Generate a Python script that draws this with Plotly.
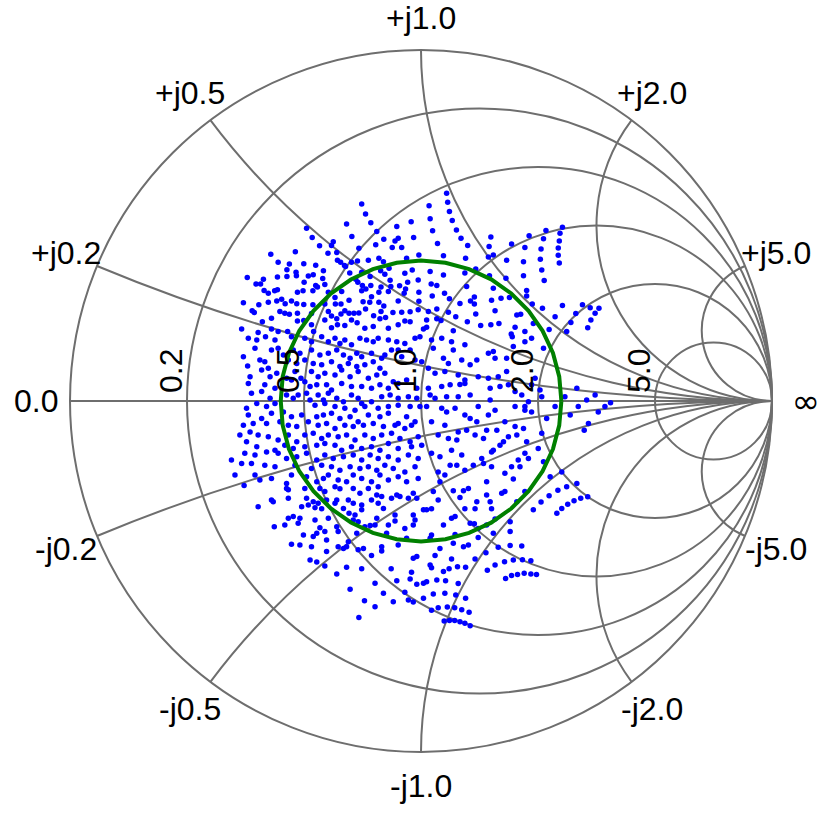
import numpy as np
import plotly.graph_objects as go

# Reflection coefficient of each sample, in thousandths: (re, im)
gamma_upper_left = [(-169,561),(-158,533),(-143,508),(-212,504),(-326,492),(-197,469),(-310,466),(-250,454),(-255,443),(-289,442),(-177,435),(-126,483),(-106,461),(-69,497),(-65,464),(-74,456),(-28,511),(-21,466),(-55,437),(-82,437),(-129,445),(-428,418),(-358,425),(-265,421),(-240,423),(-238,401),(-229,395),(-218,386),(-198,395),(-181,399),(-150,401),(-120,407),(-107,397),(-41,407),(-6,416),(-91,378),(-115,371),(-407,395),(-375,390),(-334,391),(-300,387),(-382,374),(-356,367),(-355,357),(-382,355),(-321,356),(-307,360),(-278,371),(-203,365),(-215,383),(-169,367),(-145,355),(-46,364),(-25,373),(-8,345),(-38,338),(-88,344),(-103,361),(-495,352),(-449,347),(-470,333),(-457,333),(-409,353),(-333,338),(-300,329),(-280,349),(-274,332),(-180,338),(-167,329),(-157,319),(-143,329),(-114,325),(-86,326),(-61,328),(-44,319),(-48,307),(-6,310),(-447,315),(-435,307),(-417,314),(-409,317),(-352,310),(-336,314),(-308,314),(-295,325),(-264,310),(-245,295),(-226,312),(-186,347),(-169,314),(-141,297),(-120,310),(-93,312),(-506,280),(-481,257),(-462,274),(-435,281),(-411,285),(-397,290),(-387,277),(-369,285),(-354,277),(-334,275),(-308,274),(-274,276),(-244,276),(-228,276),(-205,287),(-165,283),(-146,281),(-120,281),(-106,271),(-65,285),(-6,284),(-475,252),(-452,226),(-426,236),(-402,255),(-388,250),(-375,247),(-352,250),(-352,228),(-334,229),(-312,249),(-264,255),(-255,242),(-240,234),(-228,248),(-217,257),(-205,250),(-191,250),(-177,251),(-158,262),(-135,243),(-114,255),(-101,238),(-80,252),(-55,253),(-31,254),(-8,260),(-511,205),(-464,195),(-426,205),(-407,198),(-380,198),(-312,217),(-306,198),(-274,231),(-255,209),(-238,217),(-217,215),(-198,231),(-182,223),(-160,207),(-136,212),(-117,234),(-93,207),(-65,217),(-46,228),(-31,226),(7,205)]

gamma_upper_right = [(73,592),(76,566),(81,540),(89,514),(101,487),(114,464),(133,443),(23,556),(26,519),(33,485),(47,449),(64,414),(127,407),(199,467),(194,440),(206,416),(192,410),(258,447),(244,401),(296,437),(292,397),(308,471),(349,462),(342,433),(340,404),(344,373),(351,343),(292,357),(356,486),(403,495),(396,478),(394,456),(391,436),(391,415),(394,393),(242,350),(195,357),(156,376),(125,365),(64,359),(26,369),(29,333),(45,329),(130,326),(206,321),(301,315),(301,299),(67,307),(81,291),(32,299),(111,278),(141,285),(152,296),(152,276),(201,287),(228,293),(252,295),(317,276),(211,257),(156,248),(78,253),(45,262),(21,255),(16,231),(45,234),(57,229),(99,240),(132,226),(170,215),(199,217),(222,221),(273,245),(284,247),(320,221),(346,264),(382,240),(365,204),(403,272),(460,274),(441,249),(427,224),(415,198),(482,266),(496,250),(507,264),(484,231),(475,209),(92,200),(268,210),(296,198),(257,191),(16,210)]

gamma_mid_left = [(-492,179),(-468,174),(-443,183),(-416,174),(-369,183),(-331,179),(-312,169),(-283,183),(-264,169),(-245,179),(-231,164),(-217,174),(-198,160),(-174,179),(-155,174),(-136,169),(-122,179),(-93,174),(-69,169),(-46,164),(-17,179),(-3,183),(-65,145),(-31,145),(-84,145),
    (-473,150),(-506,126),(-459,117),(-426,145),(-407,150),(-392,131),(-364,145),(-345,136),(-312,145),(-288,131),(-264,136),(-240,145),(-221,131),(-202,122),(-183,136),(-169,126),(-141,136),(-112,122),(-103,131),(-55,126),(-17,117),(2,112),(-307,107),(-283,103),(-255,112),(-231,98),(-207,107),(-183,98),(-160,103),(-136,112),(-117,93),(-494,100),(-445,112),(-435,93),(-354,107),(-331,117),(-378,117),
    (-487,69),(-454,88),(-430,69),(-411,79),(-383,65),(-359,84),(-342,65),(-312,84),(-293,69),(-274,79),(-245,74),(-226,88),(-202,69),(-179,84),(-150,65),(-126,74),(-103,79),(-79,55),(-41,60),(-12,36),(-492,50),(-445,46),(-416,36),(-369,60),(-331,55),(-316,41),(-297,46),(-269,46),(-255,31),(-226,50),(-198,41),(-169,41),(-141,36),(-117,46),(-93,36),(-65,50),
    (-483,22),(-454,27),(-430,8),(-416,-7),(-440,-16),(-383,17),(-364,8),(-350,17),(-326,22),(-316,3),(-293,17),(-278,3),(-264,22),(-240,8),(-221,-2),(-198,17),(-179,8),(-160,-16),(-141,-2),(-112,12),(-88,17),(-65,8),(-36,12),(-12,8),(-497,-21),(-468,-7),(-302,-12),(-274,-7),(-245,-16),(-217,-21),(-188,-26),(-169,-7),(-122,-21),(-93,-16),(-65,-12),(-31,-16),(-3,-16),
    (-492,-40),(-454,-50),(-426,-35),(-392,-31),(-369,-45),(-340,-40),(-321,-59),(-297,-45),(-278,-40),(-255,-35),(-231,-50),(-202,-45),(-179,-59),(-150,-40),(-117,-45),(-93,-35),(-65,-64),(-41,-45),(-17,-59),(-506,-69),(-478,-64),(-440,-64),(-402,-59),(-378,-69),(-354,-73),(-293,-69),(-269,-64),(-245,-78),(-217,-69),(-193,-73),(-164,-69),(-136,-64),(-107,-73),(-74,-69),(-46,-78),(-27,-69),
    (-516,-97),(-487,-88),(-464,-97),(-435,-102),(-407,-111),(-378,-97),(-354,-116),(-331,-97),(-307,-92),(-283,-107),(-264,-97),(-236,-102),(-212,-97),(-188,-111),(-160,-97),(-136,-107),(-112,-97),(-84,-92),(-60,-107),(-31,-116),(-8,-102),(-497,-116),(-468,-130),(-416,-140),(-388,-126),(-364,-135),(-331,-130),(-297,-126),(-274,-121),(-245,-126),(-226,-140),(-198,-130),(-169,-135),(-141,-130),(-117,-140),(-93,-121),(-65,-135),(-27,-130),(2,-126),
    (-540,-168),(-502,-149),(-473,-154),(-440,-145),(-407,-149),(-383,-164),(-354,-159),(-326,-149),(-297,-168),(-274,-154),(-250,-164),(-221,-159),(-193,-154),(-169,-168),(-145,-154),(-122,-164),(-93,-159),(-65,-168),(-36,-154),(-8,-164),(-511,-178),(-483,-178),(-445,-183),(-416,-187),(-359,-183),(-312,-192),(-283,-183),(-255,-187),(-231,-197),(-202,-187),(-174,-192),(-150,-187),(-126,-197),(-103,-183),(-79,-192),(-46,-202),(-17,-187),
    (-530,-211),(-473,-211),(-459,-225),(-426,-221),(-383,-235),(-369,-211),(-326,-216),(-297,-230),(-278,-221),(-264,-211),(-236,-225),(-212,-230),(-193,-211),(-169,-221),(-141,-230),(-117,-211),(-93,-225),(-65,-216),(-41,-230),(-8,-221)]

gamma_mid_right = [(30,174),(59,179),(87,169),(125,160),(92,145),(35,150),(64,122),(78,107),(116,117),(140,103),(159,117),(192,136),(206,141),(211,122),(244,122),(263,155),(260,183),(296,169),(315,179),(349,150),(21,93),(40,79),(68,84),(106,74),(125,60),(111,47),(163,69),(192,65),(220,69),(244,84),(21,36),(59,41),(83,46),(125,50),(140,17),(106,12),(73,12),(40,8),(26,17),(197,36),(225,41),(249,46),(268,27),(287,17),(325,65),(315,46),(339,31),(344,12),(306,-2),(296,-16),(268,-16),(211,-26),(197,3),(444,36),(410,12),(472,3),(496,17),(16,-16),(59,-21),(73,-31),(97,-21),(125,-40),(140,-50),(163,-16),(192,-40),(239,-59),(296,-26),(315,-31),(382,-16),(358,-50),(425,-40),(448,-16),(505,-31),(524,-16),(540,-5),(477,-64),(465,-83),(30,-59),(68,-69),(106,-88),(130,-83),(159,-59),(187,-83),(216,-83),(268,-73),(292,-78),(344,-92),(49,-97),(78,-107),(102,-111),(154,-97),(178,-107),(201,-145),(225,-126),(249,-102),(273,-97),(301,-116),(334,-135),(30,-149),(54,-159),(87,-140),(116,-154),(173,-164),(206,-140),(235,-116),(296,-149),(306,-164),(277,-168),(258,-187),(239,-206),(201,-187),(178,-178),(149,-183),(125,-197),(102,-183),(83,-183),(49,-202),(68,-211),(54,-230),(187,-230),(263,-222),(282,-187),(349,-173),(401,-202),(368,-216),(444,-235)]

gamma_lower_left = [(-504,-241),(-383,-249),(-378,-253),(-331,-249),(-288,-249),(-274,-258),(-245,-244),(-231,-250),(-193,-249),(-174,-263),(-150,-249),(-122,-244),(-126,-268),(-112,-272),(-84,-277),(-69,-268),(-60,-272),(-36,-277),(-22,-263),(-12,-277),(-426,-282),(-421,-287),(-378,-277),(-326,-277),(-307,-287),(-293,-291),(-269,-282),(-245,-291),(-240,-282),(-207,-282),(-193,-291),(-169,-296),(-141,-282),(-122,-291),(-107,-306),(-464,-301),(-340,-301),(-321,-296),(-302,-304),(-283,-307),(-221,-306),(-205,-320),(-188,-325),(-169,-310),(-74,-325),(-22,-325),(-17,-339),(-378,-334),(-364,-329),(-345,-334),(-302,-339),(-264,-334),(-193,-339),(-179,-344),(-160,-358),(-145,-355),(-131,-353),(-126,-334),(-93,-353),(-74,-342),(-22,-353),(7,-310),(-418,-358),(-388,-353),(-350,-348),(-288,-361),(-274,-372),(-240,-358),(-236,-372),(-183,-377),(-98,-377),(-46,-363),(-41,-391),(-335,-382),(-307,-386),(-297,-377),(-269,-396),(-207,-401),(-369,-408),(-345,-410),(-312,-415),(-236,-415),(-221,-420),(-212,-415),(-179,-424),(-164,-420),(-112,-415),(-65,-410),(-269,-429),(-141,-440),(-112,-427),(-12,-443),(-22,-448),(-316,-453),(-297,-459),(-274,-470),(-212,-474),(-169,-478),(-85,-478),(-27,-488),(-240,-493),(-31,-507),(-12,-522),(7,-519),(-69,-512),(-131,-519),(-202,-536),(-107,-548),(-46,-545),(-161,-569),(-131,-586),(-79,-572),(-36,-567),(-22,-573),(-177,-617),(7,-562)]

gamma_lower_right = [(35,-258),(49,-282),(92,-256),(111,-275),(121,-256),(135,-249),(159,-287),(154,-307),(187,-268),(197,-287),(201,-307),(230,-263),(239,-258),(273,-287),(296,-258),(320,-310),(342,-288),(365,-270),(390,-254),(415,-244),(401,-306),(387,-320),(418,-294),(436,-284),(455,-277),(475,-273),(16,-310),(30,-307),(87,-334),(97,-329),(125,-307),(64,-353),(140,-348),(152,-350),(163,-363),(187,-353),(211,-336),(254,-344),(254,-372),(206,-377),(163,-389),(135,-410),(121,-415),(97,-380),(30,-382),(26,-391),(54,-420),(92,-405),(254,-412),(287,-413),(185,-432),(220,-417),(40,-440),(87,-450),(26,-467),(30,-475),(64,-486),(80,-478),(104,-472),(127,-474),(154,-450),(189,-482),(211,-467),(238,-458),(263,-453),(289,-452),(313,-455),(241,-506),(258,-497),(275,-494),(294,-491),(313,-493),(329,-494),(16,-515),(45,-510),(70,-512),(106,-520),(35,-550),(68,-548),(99,-553),(127,-562),(30,-596),(49,-589),(75,-587),(96,-589),(116,-595),(137,-602),(66,-627),(81,-625),(96,-625),(111,-629),(125,-633),(140,-640)]

# Constant-VSWR circle (|Gamma| = 0.4) as normalized impedance points
vswr_real = [2.333, 2.257, 2.058, 1.798, 1.535, 1.301, 1.105, 0.948, 0.823, 0.724, 0.647, 0.586, 0.539, 0.502, 0.474, 0.453, 0.439, 0.431, 0.429,
             0.431, 0.439, 0.453, 0.474, 0.502, 0.539, 0.586, 0.647, 0.724, 0.823, 0.948, 1.105, 1.301, 1.535, 1.798, 2.058, 2.257, 2.333]
vswr_imag = [0.0, 0.373, 0.670, 0.856, 0.940, 0.949, 0.912, 0.848, 0.772, 0.690, 0.607, 0.524, 0.444, 0.366, 0.290, 0.216, 0.143, 0.071, 0.0,
             -0.071, -0.143, -0.216, -0.290, -0.366, -0.444, -0.524, -0.607, -0.690, -0.772, -0.848, -0.912, -0.949, -0.940, -0.856, -0.670, -0.373, 0.0]

real_ticks = [0.2, 0.5, 1.0, 2.0, 5.0]
imag_ticks = [-5.0, -2.0, -1.0, -0.5, -0.2, 0.2, 0.5, 1.0, 2.0, 5.0]

samples = np.array(gamma_upper_left + gamma_upper_right + gamma_mid_left +
                   gamma_mid_right + gamma_lower_left + gamma_lower_right, dtype=float) / 1000.0
gamma = samples[:, 0] + 1j * samples[:, 1]
z = (1 + gamma) / (1 - gamma)

GRID = "#6e6e6e"
FONT = dict(family="Liberation Sans, Arial, sans-serif", size=32, color="black")
INF_FONT = dict(family="DejaVu Sans, sans-serif", size=34, color="black")
HIDDEN = dict(size=1, color="rgba(0,0,0,0)")

fig = go.Figure()
fig.add_trace(go.Scattersmith(real=z.real, imag=z.imag, mode="markers",
                              marker=dict(color="blue", size=5.5), showlegend=False,
                              hoverinfo="skip"))
fig.add_trace(go.Scattersmith(real=vswr_real, imag=vswr_imag, mode="lines",
                              line=dict(color="green", width=4), showlegend=False,
                              hoverinfo="skip"))


# ---- tick labels placed through the Smith mapping of the (full-square) subplot domain ----
def to_paper(g, scale=1.0):
    return 0.5 + 0.5 * g.real * scale, 0.5 + 0.5 * g.imag * scale


annotations = []
LABEL_RADIUS = 1.097  # outer labels sit just outside the unit circle
outer = [("0.0", complex(-1, 0))]
for v in imag_ticks:
    zt = complex(0, v)
    txt = f"+j{v:.1f}" if v > 0 else f"-j{abs(v):.1f}"
    outer.append((txt, (zt - 1) / (zt + 1)))
for txt, g in outer:
    x, y = to_paper(g, LABEL_RADIUS)
    annotations.append(dict(x=x, y=y, xref="paper", yref="paper", text=txt,
                            showarrow=False, xanchor="center", yanchor="middle",
                            yshift=-2 if g.imag > 0.99 else 0,
                            textangle=0, font=FONT))
# open-circuit (infinity) label, upright, on an opaque box
xi, yi = to_paper(complex(1, 0), LABEL_RADIUS)
annotations.append(dict(x=xi, y=yi, xref="paper", yref="paper", text="\u221e",
                        showarrow=False, xanchor="center", yanchor="middle",
                        width=34, height=40, bgcolor="white",
                        textangle=0, font=INF_FONT))
for r in real_ticks:
    g = complex((r - 1) / (r + 1), 0)
    x, y = to_paper(g)
    annotations.append(dict(x=x, y=y, xref="paper", yref="paper", text=f"{r:.1f}",
                            showarrow=False, textangle=-90, xanchor="right",
                            yanchor="bottom", xshift=4, yshift=6, font=FONT))

fig.update_layout(
    width=830, height=822,
    margin=dict(l=70, r=58, t=50, b=70),
    paper_bgcolor="white",
    font=FONT,
    showlegend=False,
    annotations=annotations,
    smith=dict(
        domain=dict(x=[0, 1], y=[0, 1]),
        bgcolor="white",
        realaxis=dict(tickvals=real_ticks, showticklabels=False, ticks="",
                      tickfont=HIDDEN,
                      gridcolor=GRID, gridwidth=2,
                      linecolor=GRID, linewidth=2, showline=True, layer="below traces"),
        imaginaryaxis=dict(tickvals=imag_ticks, showticklabels=False, ticks="",
                           tickfont=HIDDEN,
                           gridcolor=GRID, gridwidth=2,
                           linecolor=GRID, linewidth=2, showline=True, layer="below traces"),
    ),
)

fig.write_html("out.html", config={"displayModeBar": False},
               post_script="document.body.style.margin='0';document.body.style.overflow='hidden';")
